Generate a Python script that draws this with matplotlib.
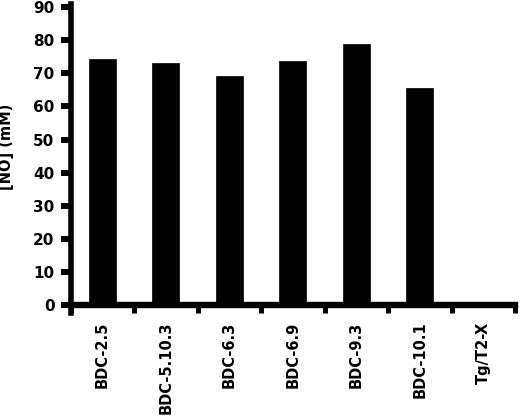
import matplotlib
matplotlib.use('Agg')
import matplotlib.pyplot as plt
import numpy as np

# clones and measured NO concentration
clones = ['BDC-2.5', 'BDC-5.10.3', 'BDC-6.3', 'BDC-6.9', 'BDC-9.3', 'BDC-10.1', 'Tg/T2-X']
no_conc = [74.3, 73.2, 69.1, 73.7, 78.7, 65.5, 0.0]
y_ticks = [0, 10, 20, 30, 40, 50, 60, 70, 80, 90]

plt.rcParams['font.family'] = 'DejaVu Sans'
plt.rcParams['font.weight'] = 'bold'

fig = plt.figure(figsize=(5.2, 4.16), dpi=100)
ax = fig.add_axes([70.5 / 520, 103 / 416, 444.5 / 520, 309 / 416])

x = np.arange(len(clones))
ax.bar(x, no_conc, width=0.42, color='black', edgecolor='black', linewidth=0.5)

ax.set_xlim(-0.5, 6.5)
ax.set_ylim(-2.3, 90.9)

# spines: thick left and bottom, bottom sits at y = 0
for side in ['top', 'right']:
    ax.spines[side].set_visible(False)
ax.spines['left'].set_linewidth(4.0)
ax.spines['bottom'].set_linewidth(4.6)
ax.spines['bottom'].set_position(('data', 0))

ax.set_yticks(y_ticks)
ax.set_yticklabels([str(v) for v in y_ticks], fontsize=11, fontweight='bold')
ax.tick_params(axis='y', direction='out', length=7.5, width=4.3, pad=4)

# labels centred under bars, tick marks on the category boundaries
ax.set_xticks(x)
ax.set_xticklabels(clones, rotation=90, fontsize=10.5, fontweight='bold')
ax.tick_params(axis='x', which='major', length=0, pad=11.5)
ax.set_xticks(np.arange(-0.5, len(clones), 1.0), minor=True)
ax.tick_params(axis='x', which='minor', direction='out', length=5.4, width=3.6)

ax.set_ylabel('[NO] (mM)', fontsize=10.5, fontweight='bold')
ax.yaxis.set_label_coords(-0.128, 0.537)

fig.savefig('out.png', dpi=100)
